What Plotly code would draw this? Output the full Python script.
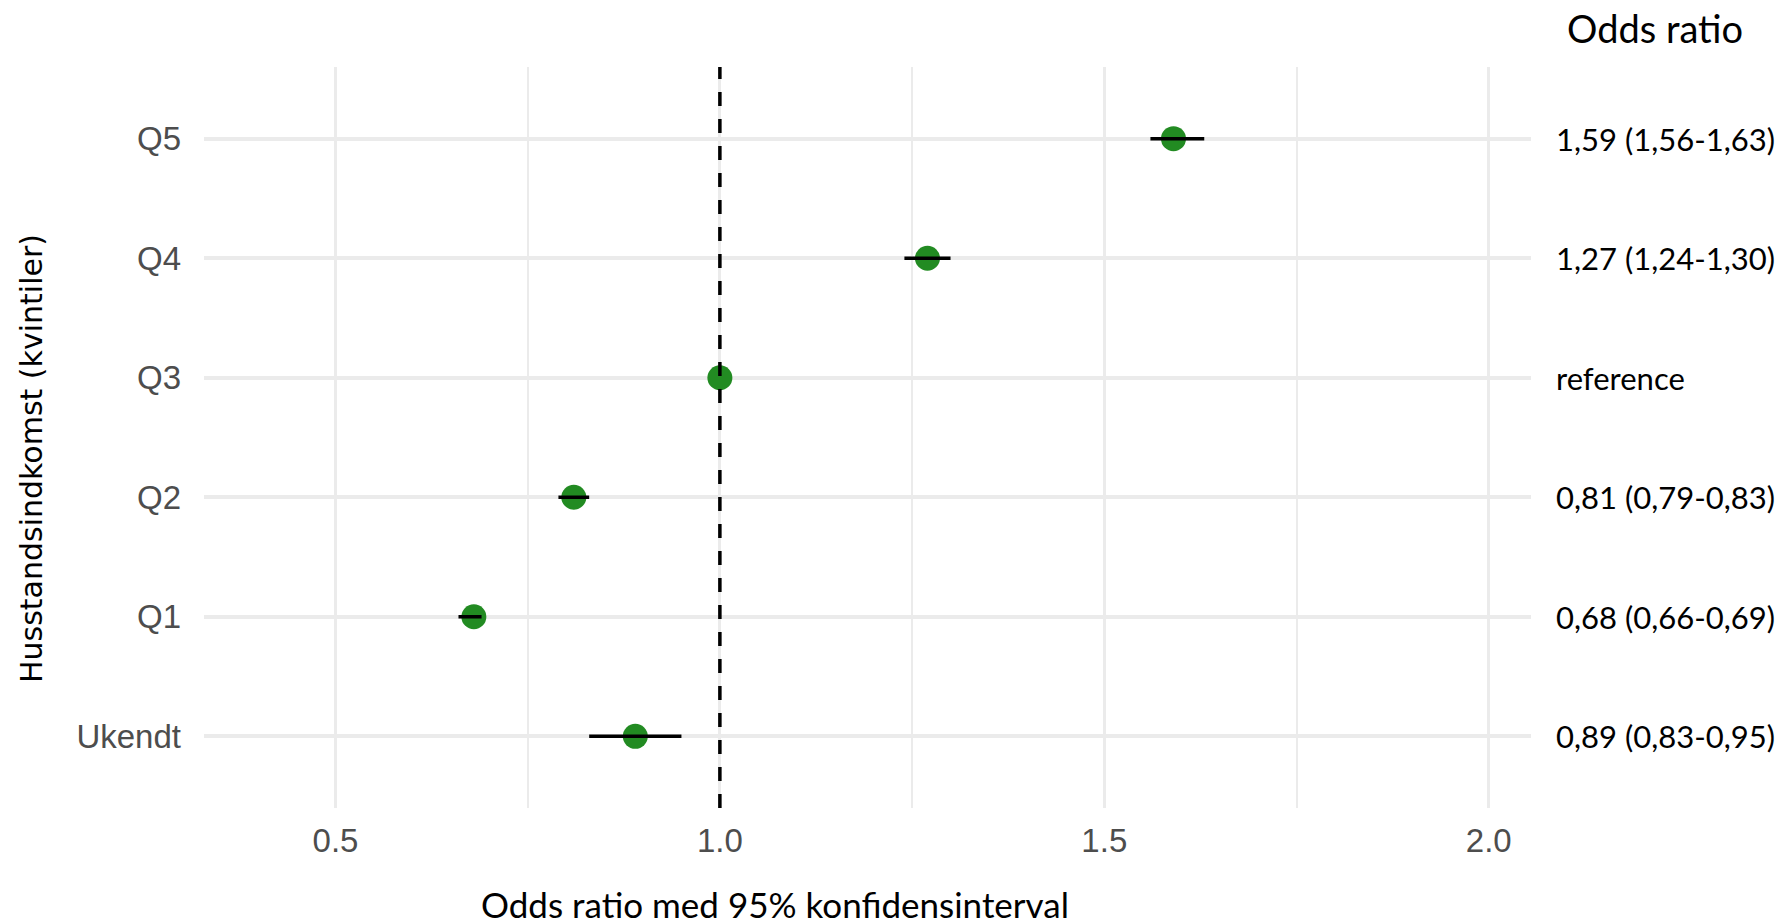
import plotly.graph_objects as go

# data
categories = ["Ukendt", "Q1", "Q2", "Q3", "Q4", "Q5"]
odds_ratio = [0.89, 0.68, 0.81, 1.00, 1.27, 1.59]
ci_low = [0.83, 0.66, 0.79, None, 1.24, 1.56]
ci_high = [0.95, 0.69, 0.83, None, 1.30, 1.63]
or_labels = [
    "0,89 (0,83-0,95)",
    "0,68 (0,66-0,69)",
    "0,81 (0,79-0,83)",
    "reference",
    "1,27 (1,24-1,30)",
    "1,59 (1,56-1,63)",
]
ref_value = 1.0

TICK_FONT = dict(family="Liberation Sans, Arial, sans-serif", size=33, color="#4D4D4D")
TEXT_FONT = "Lato, Carlito, Calibri, sans-serif"
GRID = "#EBEBEB"

# CI segments as one trace, broken with None
seg_x, seg_y = [], []
for cat, lo, hi in zip(categories, ci_low, ci_high):
    if lo is None:
        continue
    seg_x += [lo, hi, None]
    seg_y += [cat, cat, None]

fig = go.Figure()
fig.add_trace(go.Scatter(
    x=odds_ratio, y=categories, mode="markers",
    marker=dict(color="#228B22", size=25, line=dict(width=0)),
    showlegend=False, hoverinfo="skip",
))
fig.add_trace(go.Scatter(
    x=seg_x, y=seg_y, mode="lines",
    line=dict(color="black", width=3.5),
    showlegend=False, hoverinfo="skip",
))

fig.add_vline(x=ref_value, line=dict(color="black", width=3.5, dash="14px,13px"), layer="above")

# right-hand column of odds ratio labels
for cat, lab in zip(categories, or_labels):
    fig.add_annotation(
        x=1.0173, y=cat, xref="paper", yref="y", text=lab, showarrow=False,
        xanchor="left", yanchor="middle", font=dict(family=TEXT_FONT, size=31, color="black"),
    )
fig.add_annotation(
    x=1.0256, y=1.0526, xref="paper", yref="paper", text="Odds ratio", showarrow=False,
    xanchor="left", yanchor="middle", font=dict(family=TEXT_FONT, size=38, color="black"),
)
fig.add_annotation(
    x=0.4303, y=-0.1300, xref="paper", yref="paper", text="Odds ratio med 95% konfidensinterval",
    showarrow=False, xanchor="center", yanchor="middle",
    font=dict(family=TEXT_FONT, size=35, color="black"),
)
fig.add_annotation(
    x=-0.1296, y=0.471, xref="paper", yref="paper", text="Husstandsindkomst (kvintiler)",
    showarrow=False, textangle=-90, xanchor="center", yanchor="middle",
    font=dict(family="DejaVu Sans, Verdana, sans-serif", size=30, color="black"),
)

fig.update_xaxes(
    range=[0.329, 2.055], tick0=0.5, dtick=0.5, tickformat=".1f",
    showgrid=True, gridcolor=GRID, gridwidth=2.5, zeroline=False, showline=False,
    ticks="", tickfont=TICK_FONT, ticklabelstandoff=10,
    minor=dict(tick0=0.25, dtick=0.25, showgrid=True, gridcolor=GRID, gridwidth=2),
)
fig.update_yaxes(
    type="category", categoryorder="array", categoryarray=categories,
    range=[-0.6, len(categories) - 0.4],
    showgrid=True, gridcolor=GRID, gridwidth=4, zeroline=False, showline=False,
    ticks="", tickfont=TICK_FONT, ticklabelstandoff=22,
)

fig.update_layout(
    width=1781, height=924,
    margin=dict(l=204, r=250, t=67, b=116),
    plot_bgcolor="white", paper_bgcolor="white",
    showlegend=False,
)

# drop the default 8px page margin so the figure fills the window exactly
fig.write_html(
    "out.html",
    config={"displayModeBar": False},
    post_script="document.body.style.margin='0';",
)
